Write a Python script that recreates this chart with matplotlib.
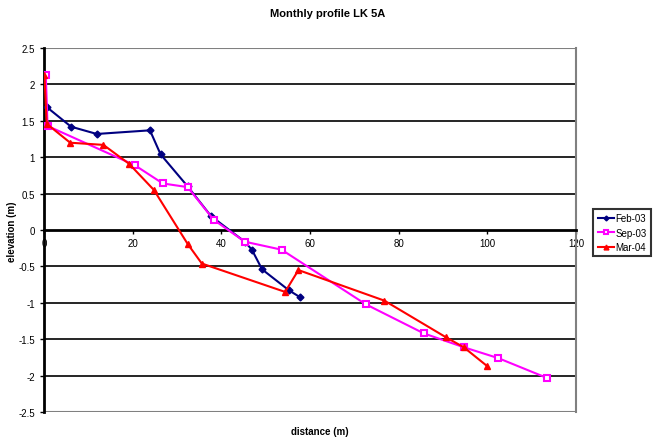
import matplotlib.pyplot as plt

plt.rcParams['font.family'] = ['Liberation Sans', 'DejaVu Sans']

# Feb-03
feb_x = [0.6, 6.1, 11.9, 23.9, 26.3, 32.4, 37.7, 45.3, 46.9, 49.2, 55.3, 57.7]
feb_y = [1.69, 1.42, 1.32, 1.37, 1.04, 0.6, 0.19, -0.16, -0.27, -0.54, -0.83, -0.92]

# Sep-03
sep_x = [0.4, 0.8, 20.5, 26.8, 32.4, 38.3, 45.3, 53.6, 72.6, 85.7, 94.7, 102.5, 113.4]
sep_y = [2.13, 1.43, 0.89, 0.64, 0.59, 0.14, -0.16, -0.27, -1.02, -1.42, -1.61, -1.76, -2.03]

# Mar-04
mar_x = [0.1, 0.6, 5.9, 13.4, 19.2, 24.8, 32.4, 35.6, 54.4, 57.4, 76.8, 90.6, 94.7, 100.0]
mar_y = [2.13, 1.46, 1.2, 1.17, 0.91, 0.55, -0.19, -0.46, -0.85, -0.55, -0.97, -1.47, -1.61, -1.87]

xticks = [0, 20, 40, 60, 80, 100, 120]
yticks = [-2.5, -2, -1.5, -1, -0.5, 0, 0.5, 1, 1.5, 2, 2.5]

fig = plt.figure(figsize=(6.55, 4.39), dpi=100)
ax = fig.add_axes([0.0672, 0.0592, 0.812, 0.829])

for yv in yticks:
    if yv in (2.5, -2.5):
        ax.axhline(yv, color='#808080', lw=1.5, zorder=1)
    elif yv != 0:
        ax.axhline(yv, color='black', lw=1.2, zorder=1)

ax.plot(feb_x, feb_y, color='#000080', lw=1.5, marker='D', ms=3.5,
        label='Feb-03', zorder=3)
ax.plot(sep_x, sep_y, color='#ff00ff', lw=1.5, marker='s', ms=5,
        mfc='white', mew=1.5, label='Sep-03', zorder=3)
ax.plot(mar_x, mar_y, color='#ff0000', lw=1.5, marker='^', ms=5,
        label='Mar-04', zorder=3)

ax.set_xlim(0, 120)
ax.set_ylim(-2.5, 2.5)
ax.set_xticks(xticks)
ax.set_yticks(yticks)
ax.set_xticklabels([str(v) for v in xticks])
ax.set_yticklabels(['-2.5', '-2', '-1.5', '-1', '-0.5', '0', '0.5', '1', '1.5', '2', '2.5'])

ax.spines['bottom'].set_position(('data', 0))
ax.spines['bottom'].set_linewidth(2)
ax.spines['left'].set_linewidth(2)
ax.spines['top'].set_visible(False)
ax.spines['right'].set_color('#808080')
ax.spines['right'].set_linewidth(1.5)
ax.tick_params(axis='both', labelsize=7, length=3, width=1, direction='out')
ax.tick_params(axis='x', pad=3)

fig.text(0.5, 0.968, 'Monthly profile LK 5A', ha='center', va='center',
         fontsize=8, fontweight='bold')
fig.text(0.488, 0.017, 'distance (m)', ha='center', va='center',
         fontsize=7, fontweight='bold')
fig.text(0.018, 0.473, 'elevation (m)', ha='center', va='center',
         fontsize=7, fontweight='bold', rotation=90)

leg = ax.legend(loc='center left', bbox_to_anchor=(0.906, 0.468),
                bbox_transform=fig.transFigure, fontsize=7, frameon=True,
                fancybox=False, edgecolor='black', borderpad=0.45,
                handlelength=1.7, labelspacing=0.45, handletextpad=0.1,
                borderaxespad=0, markerscale=0.7)
leg.get_frame().set_linewidth(1.5)

fig.savefig('out.png', dpi=100)
